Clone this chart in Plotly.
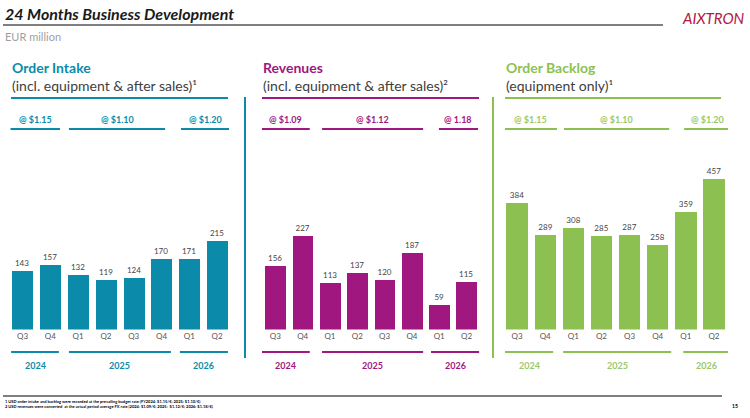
import plotly.graph_objects as go

# values (EUR million)
quarters = ["Q3", "Q4", "Q1", "Q2", "Q3", "Q4", "Q1", "Q2"]
years = ["2024", "2025", "2026"]
order_intake = [143, 157, 132, 119, 124, 170, 171, 215]
revenues = [156, 227, 113, 137, 120, 187, 59, 115]
order_backlog = [384, 289, 308, 285, 287, 258, 359, 457]
intake_rates = ["@ $1.15", "@ $1.10", "@ $1.20"]
revenue_rates = ["@ $1.09", "@ $1.12", "@ 1.18"]
backlog_rates = ["@ $1.15", "@ $1.10", "@ $1.20"]

W, H = 750, 418
FONT = "Lato"


def fx(p):
    return p / W


def fy(p):
    return 1 - p / H


def note(text, x, y, size, color, xanchor="left", xref="paper", family=FONT):
    return dict(text=text, x=x, y=y, xref=xref, yref="paper", xanchor=xanchor, yanchor="middle",
                showarrow=False, font=dict(family=family, size=size, color=color))


panels = [
    dict(title="Order Intake", sub="(incl. equipment & after sales)¹", color="#0B8BA9",
         rate_color="#0B8BA9", vals=order_intake, rates=intake_rates, x0=8.6, x1=231, x_line=(11, 228),
         ymax=460, rate_spans=[(-0.43, 1.35), (1.67, 5.13), (5.7, 7.43)],
         year_spans=[(-0.41, 1.31), (1.67, 5.34), (5.66, 7.39)]),
    dict(title="Revenues", sub="(incl. equipment & after sales)²", color="#A0177F",
         rate_color="#A0177F", vals=revenues, rates=revenue_rates, x0=261.7, x1=480.2, x_line=(262, 479),
         ymax=462, rate_spans=[(-0.49, 1.26), (1.71, 5.41), (5.99, 7.42)],
         year_spans=[(-0.49, 1.26), (1.71, 5.41), (5.7, 7.46)]),
    dict(title="Order Backlog", sub="(equipment only)¹", color="#8CC152",
         rate_color="#9CC86A", vals=order_backlog, rates=backlog_rates, x0=503, x1=728, x_line=(505, 721),
         ymax=577, rate_spans=[(-0.43, 1.42), (1.67, 5.41), (5.94, 7.58)],
         year_spans=[(-0.43, 1.28), (1.64, 5.48), (5.91, 7.58)]),
]

fig = go.Figure()
shapes = []
annotations = []

for i, p in enumerate(panels):
    n = "" if i == 0 else str(i + 1)
    xa, ya = "x" + n, "y" + n
    fig.add_trace(go.Bar(
        x=list(range(len(quarters))), y=p["vals"], xaxis=xa, yaxis=ya,
        marker=dict(color=p["color"], line=dict(width=0)), width=0.76,
        text=p["vals"], textposition="outside", cliponaxis=False,
        textfont=dict(family=FONT, size=8, color="#444444"),
        hoverinfo="skip", showlegend=False,
    ))
    fig.layout["xaxis" + n] = dict(
        domain=[fx(p["x0"]), fx(p["x1"])], range=[-0.5, 7.5], anchor=ya,
        tickvals=list(range(len(quarters))), ticktext=quarters,
        tickfont=dict(family=FONT, size=8, color="#555555"),
        showgrid=False, zeroline=False, showline=False, fixedrange=True,
    )
    fig.layout["yaxis" + n] = dict(
        domain=[fy(329.5), fy(140)], range=[0, p["ymax"]], anchor=xa, visible=False, fixedrange=True,
    )

    # panel heading
    annotations.append(note("<b>" + p["title"] + "</b>", fx(p["x_line"][0] - 1), fy(67), 14, p["color"]))
    annotations.append(note(p["sub"], fx(p["x_line"][0] - 1), fy(85), 14, "#404040"))
    shapes.append(dict(type="line", xref="paper", yref="paper", x0=fx(p["x_line"][0]), x1=fx(p["x_line"][1]),
                       y0=fy(98), y1=fy(98), line=dict(color=p["color"], width=2)))

    # fx rate groups and year groups
    for (a, b), txt in zip(p["rate_spans"], p["rates"]):
        shapes.append(dict(type="line", xref=xa, yref="paper", x0=a, x1=b, y0=fy(129), y1=fy(129),
                           line=dict(color=p["color"], width=2)))
        annotations.append(note("<b>" + txt + "</b>", (a + b) / 2, fy(119), 9, p["rate_color"],
                                xanchor="center", xref=xa))
    for (a, b), yr in zip(p["year_spans"], years):
        shapes.append(dict(type="line", xref=xa, yref="paper", x0=a, x1=b, y0=fy(352), y1=fy(352),
                           line=dict(color=p["color"], width=2)))
        annotations.append(note("<b>" + yr + "</b>", (a + b) / 2, fy(365), 9, p["rate_color"],
                                xanchor="center", xref=xa))

# dividers between panels
for xp, col in [(245, "#0B8BA9"), (493, "#8CC152")]:
    shapes.append(dict(type="line", xref="paper", yref="paper", x0=fx(xp), x1=fx(xp), y0=fy(97), y1=fy(358),
                       line=dict(color=col, width=2)))

# header
shapes.append(dict(type="line", xref="paper", yref="paper", x0=fx(3), x1=fx(663), y0=fy(25), y1=fy(25),
                   line=dict(color="#7F7F7F", width=2)))
annotations.append(note("<b><i>24 Months Business Development</i></b>", fx(3), fy(14), 16, "#1A1A1A"))
annotations.append(note("<i>AIXTRON</i>", fx(747), fy(18), 15, "#B5173F", xanchor="right"))
annotations.append(note("EUR million", fx(3), fy(37), 11, "#A0A0A0"))

# footer
shapes.append(dict(type="line", xref="paper", yref="paper", x0=fx(3), x1=fx(722), y0=fy(396), y1=fy(396),
                   line=dict(color="#000000", width=1.2)))
annotations.append(note(
    "<b>1 USD order intake and backlog were recorded at the prevailing budget rate (FY2024: $1.15/€; 2025: $1.10/€)</b>",
    fx(3), fy(401), 4, "#000000"))
annotations.append(note(
    "<b>2 USD revenues were converted  at the actual period average FX rate (2024: $1.09/€; 2025:  $1.12/€; 2026: $1.18/€)</b>",
    fx(3), fy(406), 4, "#000000"))
annotations.append(note("<b>15</b>", fx(735), fy(406), 5, "#000000", xanchor="center"))

fig.update_layout(
    width=W, height=H, margin=dict(l=0, r=0, t=0, b=0),
    paper_bgcolor="white", plot_bgcolor="white",
    shapes=shapes, annotations=annotations, bargap=0,
)

# drop the browser's default body margin so the figure sits at the window's corner
fig.write_html("out.html", config={"displayModeBar": False},
               post_script="document.body.style.margin='0';")
